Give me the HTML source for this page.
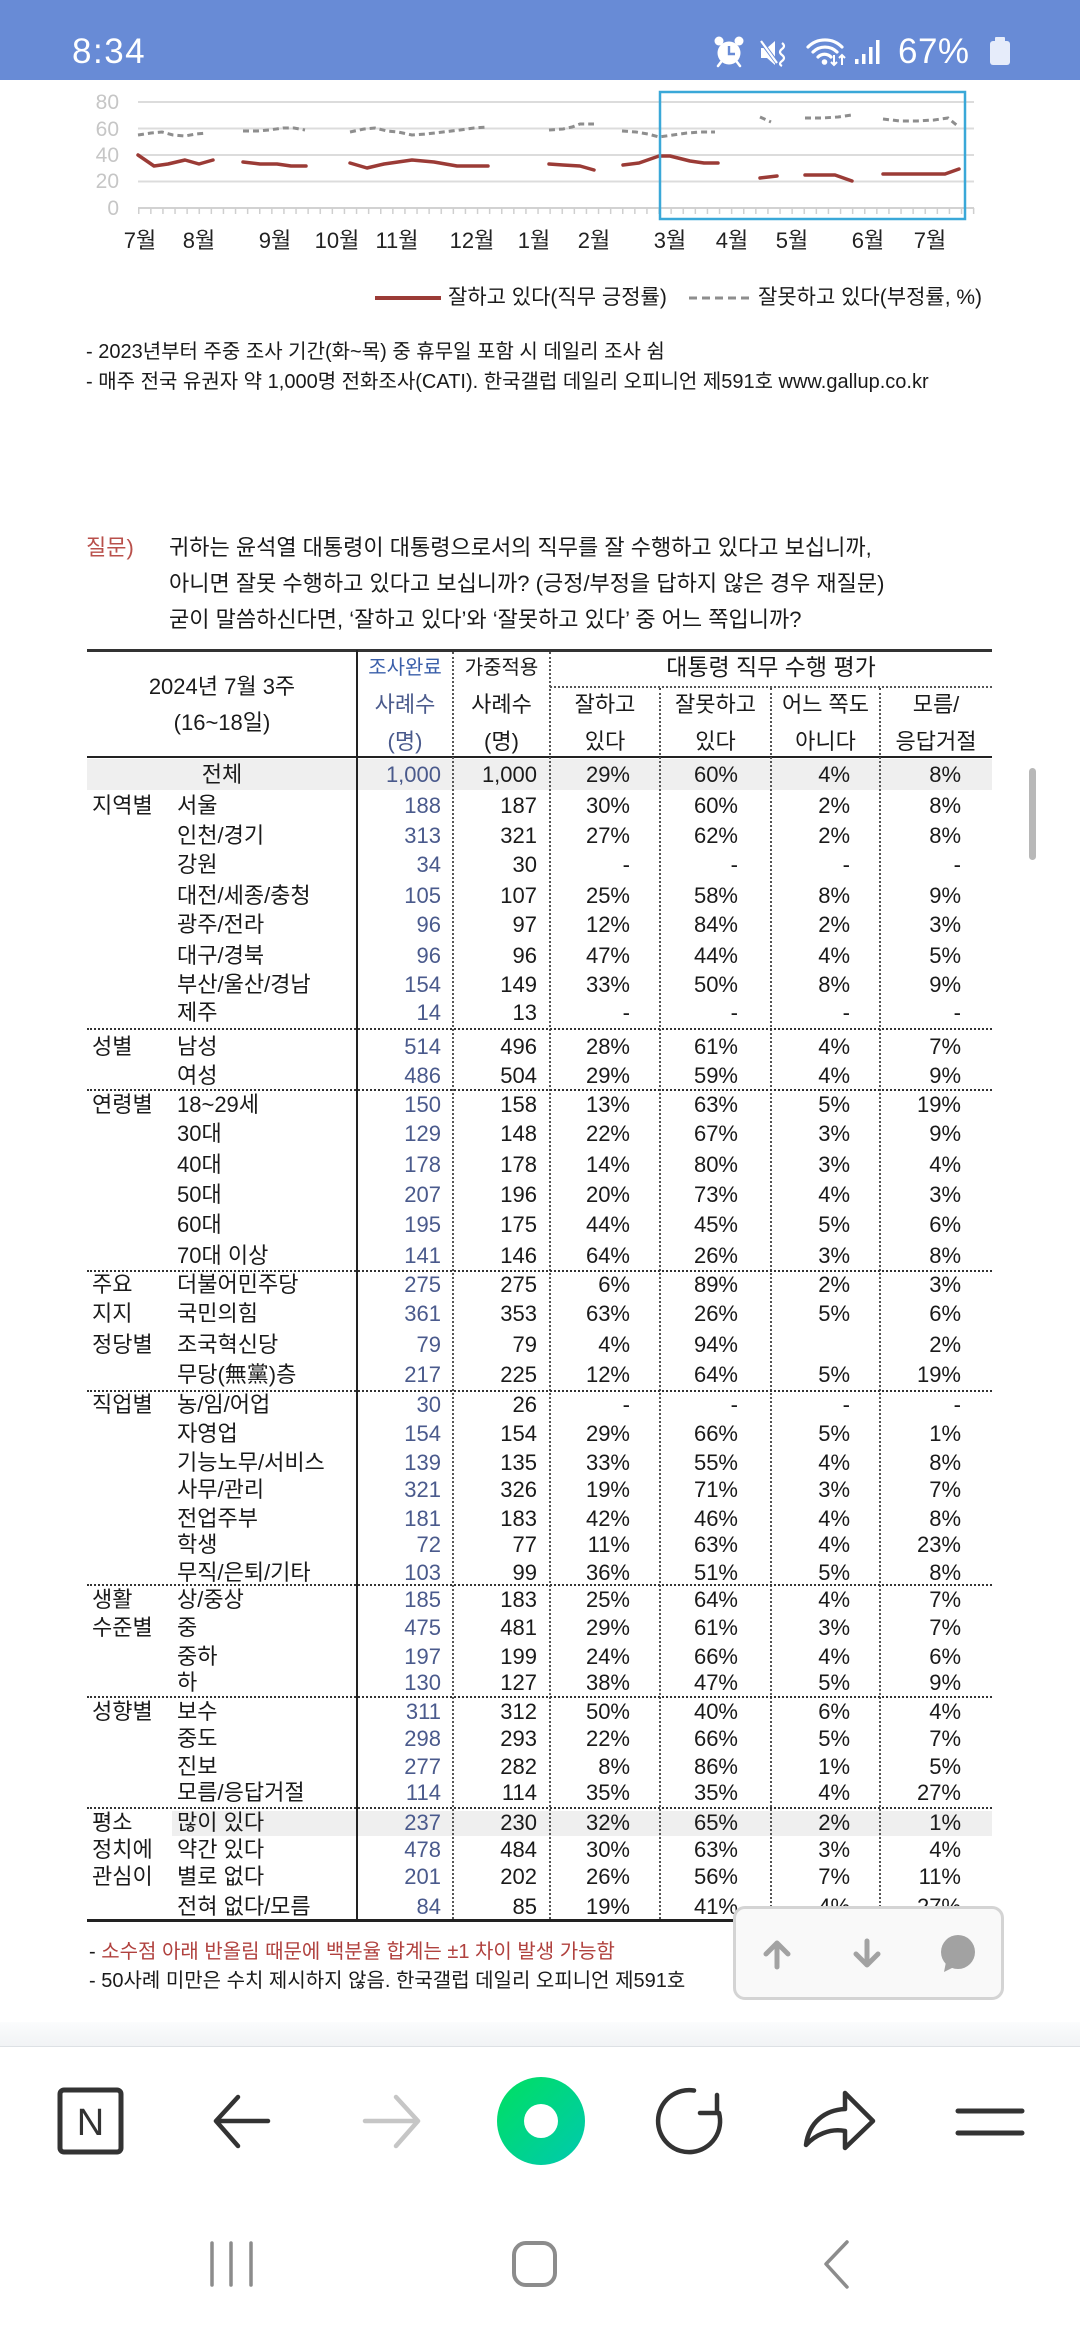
<!DOCTYPE html>
<html><head><meta charset="utf-8">
<style>
*{margin:0;padding:0;box-sizing:border-box}
html,body{width:1080px;height:2340px;overflow:hidden;background:#fff}
body{position:relative;font-family:"Liberation Sans","Noto Sans CJK KR",sans-serif;color:#1a1a1a}
.abs{position:absolute;white-space:nowrap}
.r{position:absolute;left:0;width:1080px;height:30px;line-height:30px;font-size:22px}
.r span{position:absolute;top:0;white-space:nowrap}
.g{left:92px}.l{left:177px}
.tc{left:87px;width:270px;text-align:center}
.a{right:639px;color:#4a5a8c}.b{right:543px}.c{right:450px}.d{right:342px}.e{right:230px}.f{right:119px}
.t{position:absolute;white-space:nowrap;text-align:center;line-height:30px;font-size:22px}
.vd{position:absolute;width:0;border-left:2px dotted #555}
.hd{position:absolute;left:87px;width:905px;height:0;border-top:2px dotted #333}
</style></head><body>

<!-- status bar -->
<div class="abs" style="left:0;top:0;width:1080px;height:80px;background:#688bd6"></div>
<div class="abs" style="left:72px;top:32px;font-size:35px;line-height:40px;color:#fff;letter-spacing:1.5px">8:34</div>
<div class="abs" style="left:898px;top:32px;font-size:35px;line-height:40px;color:#fff;letter-spacing:0.5px">67%</div>
<svg class="abs" style="left:0;top:0" width="1080" height="80" viewBox="0 0 1080 80">
  <g fill="#fff">
    <circle cx="729" cy="53" r="11.5"/>
    <circle cx="719" cy="41" r="4.5"/>
    <circle cx="739" cy="41" r="4.5"/>
  </g>
  <g stroke="#fff" stroke-width="2.5" stroke-linecap="round">
    <line x1="721" y1="62" x2="718" y2="66"/><line x1="737" y1="62" x2="740" y2="66"/>
  </g>
  <path d="M729 46 L729 54 L735 54" stroke="#688bd6" stroke-width="2.4" fill="none"/>
  <polygon points="761,48 767,48 775,41 775,65 767,58 761,58" fill="#fff"/>
  <line x1="760" y1="40" x2="778" y2="64" stroke="#688bd6" stroke-width="4"/>
  <line x1="761" y1="41" x2="777" y2="63" stroke="#fff" stroke-width="2.2"/>
  <path d="M782 43 q4 3 0 6 q-4 3 0 6 q4 3 0 6 q-4 3 0 5" stroke="#fff" stroke-width="2.2" fill="none"/>
  <g stroke="#fff" stroke-width="3.2" fill="none" stroke-linecap="round">
    <path d="M808 47 A24 24 0 0 1 842 47"/>
    <path d="M813 52 A17 17 0 0 1 837 52"/>
    <path d="M818 57 A9 9 0 0 1 831 57"/>
  </g>
  <circle cx="824.5" cy="62" r="2.8" fill="#fff"/>
  <g stroke="#fff" stroke-width="2" fill="none">
    <path d="M834 55 v10 M831 62 l3 3 l3 -3"/>
    <path d="M842 65 v-10 M839 58 l3 -3 l3 3"/>
  </g>
  <g fill="#fff">
    <rect x="855" y="59" width="3.5" height="5"/>
    <rect x="862" y="54" width="3.5" height="10"/>
    <rect x="869" y="47" width="3.5" height="17"/>
    <rect x="876" y="40" width="3.5" height="24"/>
  </g>
  <rect x="990" y="41" width="20" height="24" rx="3" fill="#e6ecfa"/>
  <rect x="995" y="37" width="10" height="5" rx="1" fill="#e6ecfa"/>
</svg>

<!-- chart -->
<svg class="abs" style="left:0;top:0" width="1080" height="320" viewBox="0 0 1080 320">
  <defs>
    <pattern id="tk" x="138" y="0" width="12.1" height="320" patternUnits="userSpaceOnUse">
      <rect x="0" y="208" width="1.5" height="6" fill="#cfcfcf"/>
    </pattern>
  </defs>
  <g stroke="#dcdcdc" stroke-width="2">
    <line x1="138" y1="102" x2="974" y2="102"/>
    <line x1="138" y1="128.5" x2="974" y2="128.5"/>
    <line x1="138" y1="155" x2="974" y2="155"/>
    <line x1="138" y1="181.5" x2="974" y2="181.5"/>
  </g>
  <line x1="138" y1="208" x2="974" y2="208" stroke="#d2d2d2" stroke-width="2"/>
  <rect x="138" y="208" width="838" height="7" fill="url(#tk)"/>
  <g font-size="21" fill="#c6c6c6" text-anchor="end" font-family="Liberation Sans, sans-serif">
    <text x="119" y="109">80</text>
    <text x="119" y="136">60</text>
    <text x="119" y="162">40</text>
    <text x="119" y="188">20</text>
    <text x="119" y="215">0</text>
  </g>
  <g fill="none" stroke="#8e8e8e" stroke-width="3" stroke-dasharray="6 4">
    <polyline points="138,135 151,133 162,132 173,135 185,136 196,134 207,133"/>
    <polyline points="243,131 257,131 269,130 283,128 294,128 305,130"/>
    <polyline points="350,132 364,129 375,128 387,131 398,132 412,135 426,134 443,132 460,130 474,128 488,127"/>
    <polyline points="549,130 563,129 572,127 580,124 594,124"/>
    <polyline points="622,131 636,132 648,134 659,137 673,135 687,133 701,132 715,132"/>
    <polyline points="760,117 771,122"/>
    <polyline points="805,118 822,118 838,117 852,115"/>
    <polyline points="883,119 900,121 917,121 934,120 948,118 959,127"/>
  </g>
  <g fill="none" stroke="#9b3b36" stroke-width="3.5" stroke-linejoin="round" stroke-linecap="round">
    <polyline points="138,155 154,166 168,164 185,160 199,164 213,160"/>
    <polyline points="243,162 260,164 277,164 291,166 306,166"/>
    <polyline points="350,163 367,168 384,164 412,160 434,162 457,166 488,166"/>
    <polyline points="549,164 563,165 580,166 594,170"/>
    <polyline points="623,165 639,163 659,156 670,156 690,161 704,163 718,163"/>
    <polyline points="760,178 777,176"/>
    <polyline points="805,175 835,175 852,181"/>
    <polyline points="883,174 945,174 959,169"/>
  </g>
  <rect x="660" y="92" width="305" height="127" fill="none" stroke="#3aa8d8" stroke-width="2.5"/>
  <g font-size="22" fill="#222" text-anchor="middle">
    <text x="140" y="248">7월</text>
    <text x="199" y="248">8월</text>
    <text x="275" y="248">9월</text>
    <text x="337" y="248">10월</text>
    <text x="397" y="248">11월</text>
    <text x="472" y="248">12월</text>
    <text x="534" y="248">1월</text>
    <text x="594" y="248">2월</text>
    <text x="670" y="248">3월</text>
    <text x="732" y="248">4월</text>
    <text x="792" y="248">5월</text>
    <text x="868" y="248">6월</text>
    <text x="930" y="248">7월</text>
  </g>
  <line x1="375" y1="298" x2="441" y2="298" stroke="#9b3b36" stroke-width="4"/>
  <line x1="689" y1="298" x2="751" y2="298" stroke="#8e8e8e" stroke-width="3" stroke-dasharray="8 5"/>
</svg>
<div class="abs" style="left:448px;top:283px;font-size:21px;line-height:30px">잘하고 있다(직무 긍정률)</div>
<div class="abs" style="left:758px;top:283px;font-size:21px;line-height:30px">잘못하고 있다(부정률, %)</div>

<div class="abs" style="left:86px;top:337px;font-size:20px;line-height:30px">- 2023년부터 주중 조사 기간(화~목) 중 휴무일 포함 시 데일리 조사 쉼</div>
<div class="abs" style="left:86px;top:367px;font-size:20px;line-height:30px">- 매주 전국 유권자 약 1,000명 전화조사(CATI). 한국갤럽 데일리 오피니언 제591호 www.gallup.co.kr</div>

<!-- question -->
<div class="abs" style="left:86px;top:530px;font-size:22px;line-height:36px;color:#b9504b">질문)</div>
<div class="abs" style="left:169px;top:530px;font-size:22px;line-height:36px">귀하는 윤석열 대통령이 대통령으로서의 직무를 잘 수행하고 있다고 보십니까,</div>
<div class="abs" style="left:169px;top:566px;font-size:22px;line-height:36px">아니면 잘못 수행하고 있다고 보십니까? (긍정/부정을 답하지 않은 경우 재질문)</div>
<div class="abs" style="left:169px;top:602px;font-size:22px;line-height:36px">굳이 말씀하신다면, ‘잘하고 있다’와 ‘잘못하고 있다’ 중 어느 쪽입니까?</div>

<!-- table backgrounds -->
<div class="abs" style="left:87px;top:759px;width:905px;height:31px;background:#efefef"></div>
<div class="abs" style="left:172px;top:1811px;width:820px;height:25px;background:#efefef"></div>

<!-- table lines -->
<div class="abs" style="left:87px;top:649px;width:905px;height:3px;background:#333"></div>
<div class="abs" style="left:87px;top:756px;width:905px;height:2px;background:#222"></div>
<div class="abs" style="left:356px;top:650px;width:2px;height:1271px;background:#222"></div>
<div class="vd" style="left:452px;top:652px;height:1267px"></div>
<div class="vd" style="left:549px;top:652px;height:1267px"></div>
<div class="vd" style="left:659px;top:688px;height:1231px"></div>
<div class="vd" style="left:770px;top:688px;height:1231px"></div>
<div class="vd" style="left:879px;top:688px;height:1231px"></div>
<div class="abs" style="left:550px;top:686px;width:442px;height:0;border-top:2px dotted #555"></div>
<div class="hd" style="top:1028px"></div>
<div class="hd" style="top:1089px"></div>
<div class="hd" style="top:1270px"></div>
<div class="hd" style="top:1390px"></div>
<div class="hd" style="top:1584px"></div>
<div class="hd" style="top:1696px"></div>
<div class="hd" style="top:1807px"></div>
<div class="abs" style="left:87px;top:1919px;width:905px;height:3px;background:#222"></div>

<!-- header text -->
<div class="t" style="left:87px;width:270px;top:672px">2024년 7월 3주</div>
<div class="t" style="left:87px;width:270px;top:708px">(16~18일)</div>
<div class="t" style="left:357px;width:96px;top:653px;font-size:20px;color:#3a5faa">조사완료</div>
<div class="t" style="left:453px;width:97px;top:653px;font-size:20px">가중적용</div>
<div class="t" style="left:357px;width:96px;top:690px;color:#4a5a8c">사례수</div>
<div class="t" style="left:357px;width:96px;top:727px;color:#4a5a8c">(명)</div>
<div class="t" style="left:453px;width:97px;top:690px">사례수</div>
<div class="t" style="left:453px;width:97px;top:727px">(명)</div>
<div class="t" style="left:550px;width:442px;top:652px;font-size:23px">대통령 직무 수행 평가</div>
<div class="t" style="left:550px;width:110px;top:690px">잘하고</div>
<div class="t" style="left:550px;width:110px;top:727px">있다</div>
<div class="t" style="left:660px;width:111px;top:690px">잘못하고</div>
<div class="t" style="left:660px;width:111px;top:727px">있다</div>
<div class="t" style="left:771px;width:109px;top:690px">어느 쪽도</div>
<div class="t" style="left:771px;width:109px;top:727px">아니다</div>
<div class="t" style="left:880px;width:112px;top:690px">모름/</div>
<div class="t" style="left:880px;width:112px;top:727px">응답거절</div>

<!-- rows -->
<div class="r" style="top:760px"><span class="tc">전체</span><span class="a">1,000</span><span class="b">1,000</span><span class="c">29%</span><span class="d">60%</span><span class="e">4%</span><span class="f">8%</span></div>
<div class="r" style="top:791px"><span class="g">지역별</span><span class="l">서울</span><span class="a">188</span><span class="b">187</span><span class="c">30%</span><span class="d">60%</span><span class="e">2%</span><span class="f">8%</span></div>
<div class="r" style="top:821px"><span class="l">인천/경기</span><span class="a">313</span><span class="b">321</span><span class="c">27%</span><span class="d">62%</span><span class="e">2%</span><span class="f">8%</span></div>
<div class="r" style="top:850px"><span class="l">강원</span><span class="a">34</span><span class="b">30</span><span class="c">-</span><span class="d">-</span><span class="e">-</span><span class="f">-</span></div>
<div class="r" style="top:881px"><span class="l">대전/세종/충청</span><span class="a">105</span><span class="b">107</span><span class="c">25%</span><span class="d">58%</span><span class="e">8%</span><span class="f">9%</span></div>
<div class="r" style="top:910px"><span class="l">광주/전라</span><span class="a">96</span><span class="b">97</span><span class="c">12%</span><span class="d">84%</span><span class="e">2%</span><span class="f">3%</span></div>
<div class="r" style="top:941px"><span class="l">대구/경북</span><span class="a">96</span><span class="b">96</span><span class="c">47%</span><span class="d">44%</span><span class="e">4%</span><span class="f">5%</span></div>
<div class="r" style="top:970px"><span class="l">부산/울산/경남</span><span class="a">154</span><span class="b">149</span><span class="c">33%</span><span class="d">50%</span><span class="e">8%</span><span class="f">9%</span></div>
<div class="r" style="top:998px"><span class="l">제주</span><span class="a">14</span><span class="b">13</span><span class="c">-</span><span class="d">-</span><span class="e">-</span><span class="f">-</span></div>
<div class="r" style="top:1032px"><span class="g">성별</span><span class="l">남성</span><span class="a">514</span><span class="b">496</span><span class="c">28%</span><span class="d">61%</span><span class="e">4%</span><span class="f">7%</span></div>
<div class="r" style="top:1061px"><span class="l">여성</span><span class="a">486</span><span class="b">504</span><span class="c">29%</span><span class="d">59%</span><span class="e">4%</span><span class="f">9%</span></div>
<div class="r" style="top:1090px"><span class="g">연령별</span><span class="l">18~29세</span><span class="a">150</span><span class="b">158</span><span class="c">13%</span><span class="d">63%</span><span class="e">5%</span><span class="f">19%</span></div>
<div class="r" style="top:1119px"><span class="l">30대</span><span class="a">129</span><span class="b">148</span><span class="c">22%</span><span class="d">67%</span><span class="e">3%</span><span class="f">9%</span></div>
<div class="r" style="top:1150px"><span class="l">40대</span><span class="a">178</span><span class="b">178</span><span class="c">14%</span><span class="d">80%</span><span class="e">3%</span><span class="f">4%</span></div>
<div class="r" style="top:1180px"><span class="l">50대</span><span class="a">207</span><span class="b">196</span><span class="c">20%</span><span class="d">73%</span><span class="e">4%</span><span class="f">3%</span></div>
<div class="r" style="top:1210px"><span class="l">60대</span><span class="a">195</span><span class="b">175</span><span class="c">44%</span><span class="d">45%</span><span class="e">5%</span><span class="f">6%</span></div>
<div class="r" style="top:1241px"><span class="l">70대 이상</span><span class="a">141</span><span class="b">146</span><span class="c">64%</span><span class="d">26%</span><span class="e">3%</span><span class="f">8%</span></div>
<div class="r" style="top:1270px"><span class="g">주요</span><span class="l">더불어민주당</span><span class="a">275</span><span class="b">275</span><span class="c">6%</span><span class="d">89%</span><span class="e">2%</span><span class="f">3%</span></div>
<div class="r" style="top:1299px"><span class="g">지지</span><span class="l">국민의힘</span><span class="a">361</span><span class="b">353</span><span class="c">63%</span><span class="d">26%</span><span class="e">5%</span><span class="f">6%</span></div>
<div class="r" style="top:1330px"><span class="g">정당별</span><span class="l">조국혁신당</span><span class="a">79</span><span class="b">79</span><span class="c">4%</span><span class="d">94%</span><span class="f">2%</span></div>
<div class="r" style="top:1360px"><span class="l">무당(無黨)층</span><span class="a">217</span><span class="b">225</span><span class="c">12%</span><span class="d">64%</span><span class="e">5%</span><span class="f">19%</span></div>
<div class="r" style="top:1390px"><span class="g">직업별</span><span class="l">농/임/어업</span><span class="a">30</span><span class="b">26</span><span class="c">-</span><span class="d">-</span><span class="e">-</span><span class="f">-</span></div>
<div class="r" style="top:1419px"><span class="l">자영업</span><span class="a">154</span><span class="b">154</span><span class="c">29%</span><span class="d">66%</span><span class="e">5%</span><span class="f">1%</span></div>
<div class="r" style="top:1448px"><span class="l">기능노무/서비스</span><span class="a">139</span><span class="b">135</span><span class="c">33%</span><span class="d">55%</span><span class="e">4%</span><span class="f">8%</span></div>
<div class="r" style="top:1475px"><span class="l">사무/관리</span><span class="a">321</span><span class="b">326</span><span class="c">19%</span><span class="d">71%</span><span class="e">3%</span><span class="f">7%</span></div>
<div class="r" style="top:1504px"><span class="l">전업주부</span><span class="a">181</span><span class="b">183</span><span class="c">42%</span><span class="d">46%</span><span class="e">4%</span><span class="f">8%</span></div>
<div class="r" style="top:1530px"><span class="l">학생</span><span class="a">72</span><span class="b">77</span><span class="c">11%</span><span class="d">63%</span><span class="e">4%</span><span class="f">23%</span></div>
<div class="r" style="top:1558px"><span class="l">무직/은퇴/기타</span><span class="a">103</span><span class="b">99</span><span class="c">36%</span><span class="d">51%</span><span class="e">5%</span><span class="f">8%</span></div>
<div class="r" style="top:1585px"><span class="g">생활</span><span class="l">상/중상</span><span class="a">185</span><span class="b">183</span><span class="c">25%</span><span class="d">64%</span><span class="e">4%</span><span class="f">7%</span></div>
<div class="r" style="top:1613px"><span class="g">수준별</span><span class="l">중</span><span class="a">475</span><span class="b">481</span><span class="c">29%</span><span class="d">61%</span><span class="e">3%</span><span class="f">7%</span></div>
<div class="r" style="top:1642px"><span class="l">중하</span><span class="a">197</span><span class="b">199</span><span class="c">24%</span><span class="d">66%</span><span class="e">4%</span><span class="f">6%</span></div>
<div class="r" style="top:1668px"><span class="l">하</span><span class="a">130</span><span class="b">127</span><span class="c">38%</span><span class="d">47%</span><span class="e">5%</span><span class="f">9%</span></div>
<div class="r" style="top:1697px"><span class="g">성향별</span><span class="l">보수</span><span class="a">311</span><span class="b">312</span><span class="c">50%</span><span class="d">40%</span><span class="e">6%</span><span class="f">4%</span></div>
<div class="r" style="top:1724px"><span class="l">중도</span><span class="a">298</span><span class="b">293</span><span class="c">22%</span><span class="d">66%</span><span class="e">5%</span><span class="f">7%</span></div>
<div class="r" style="top:1752px"><span class="l">진보</span><span class="a">277</span><span class="b">282</span><span class="c">8%</span><span class="d">86%</span><span class="e">1%</span><span class="f">5%</span></div>
<div class="r" style="top:1778px"><span class="l">모름/응답거절</span><span class="a">114</span><span class="b">114</span><span class="c">35%</span><span class="d">35%</span><span class="e">4%</span><span class="f">27%</span></div>
<div class="r" style="top:1808px"><span class="g">평소</span><span class="l">많이 있다</span><span class="a">237</span><span class="b">230</span><span class="c">32%</span><span class="d">65%</span><span class="e">2%</span><span class="f">1%</span></div>
<div class="r" style="top:1835px"><span class="g">정치에</span><span class="l">약간 있다</span><span class="a">478</span><span class="b">484</span><span class="c">30%</span><span class="d">63%</span><span class="e">3%</span><span class="f">4%</span></div>
<div class="r" style="top:1862px"><span class="g">관심이</span><span class="l">별로 없다</span><span class="a">201</span><span class="b">202</span><span class="c">26%</span><span class="d">56%</span><span class="e">7%</span><span class="f">11%</span></div>
<div class="r" style="top:1892px"><span class="l">전혀 없다/모름</span><span class="a">84</span><span class="b">85</span><span class="c">19%</span><span class="d">41%</span><span class="e">4%</span><span class="f">27%</span></div>

<!-- scrollbar -->
<div class="abs" style="left:1029px;top:768px;width:7px;height:92px;border-radius:4px;background:#b8b8b8"></div>

<!-- footnotes -->
<div class="abs" style="left:89px;top:1937px;font-size:20px;line-height:30px">- <span style="color:#b0413e">소수점 아래 반올림 때문에 백분율 합계는 ±1 차이 발생 가능함</span></div>
<div class="abs" style="left:89px;top:1966px;font-size:20px;line-height:30px">- 50사례 미만은 수치 제시하지 않음. 한국갤럽 데일리 오피니언 제591호</div>

<!-- floating panel -->
<div class="abs" style="left:733px;top:1906px;width:271px;height:94px;border:3px solid #d4d4d4;border-radius:12px;background:#f9f9f9"></div>
<svg class="abs" style="left:0;top:1900px" width="1080" height="110" viewBox="0 1900 1080 110">
  <g stroke="#a2a2a2" stroke-width="5" fill="none" stroke-linecap="round" stroke-linejoin="round">
    <path d="M777 1967 V1944 M766 1954 L777 1943 L788 1954"/>
    <path d="M867 1941 V1964 M856 1954 L867 1965 L878 1954"/>
  </g>
  <circle cx="958" cy="1952" r="17" fill="#a2a2a2"/>
  <path d="M946 1962 L944 1972 L956 1966 Z" fill="#a2a2a2"/>
</svg>

<!-- browser bar -->
<div class="abs" style="left:0;top:2022px;width:1080px;height:24px;background:linear-gradient(#fbfcfd,#f1f3f5)"></div>
<div class="abs" style="left:0;top:2046px;width:1080px;height:1px;background:#dde1e5"></div>
<svg class="abs" style="left:0;top:2047px" width="1080" height="293" viewBox="0 2047 1080 293">
  <defs>
    <linearGradient id="gr" x1="0" y1="0" x2="1" y2="1">
      <stop offset="0" stop-color="#00e060"/>
      <stop offset="1" stop-color="#00c9b0"/>
    </linearGradient>
  </defs>
  <rect x="60" y="2090" width="61" height="62" rx="4" fill="none" stroke="#333" stroke-width="5"/>
  <text x="90.5" y="2135" font-size="38" text-anchor="middle" fill="#333" font-family="Liberation Sans, sans-serif">N</text>
  <g stroke="#333" stroke-width="4.5" fill="none" stroke-linecap="round" stroke-linejoin="round">
    <path d="M217 2121 H268 M238 2097 L216 2121 L238 2146"/>
  </g>
  <g stroke="#c6c6c6" stroke-width="4.5" fill="none" stroke-linecap="round" stroke-linejoin="round">
    <path d="M365 2121 H417 M396 2097 L418 2121 L396 2146"/>
  </g>
  <circle cx="541" cy="2121" r="44" fill="url(#gr)"/>
  <circle cx="541" cy="2121" r="17" fill="#fff"/>
  <g stroke="#333" stroke-width="4.5" fill="none" stroke-linecap="round" stroke-linejoin="round">
    <path d="M694 2090.5 A31 31 0 1 0 719 2113"/>
    <path d="M717 2095 L717 2113 L700 2113"/>
    <path d="M845 2093 L873 2121 L845 2148 L845 2131 C830 2128 815 2135 806 2145 C809 2122 825 2110 845 2109 Z"/>
  </g>
  <g stroke="#333" stroke-width="5" stroke-linecap="round">
    <line x1="958" y1="2111" x2="1022" y2="2111"/>
    <line x1="958" y1="2133" x2="1022" y2="2133"/>
  </g>
  <g stroke="#8c8c8c" stroke-width="3.5" fill="none" stroke-linecap="round" stroke-linejoin="round">
    <line x1="212" y1="2243" x2="212" y2="2285"/>
    <line x1="231" y1="2243" x2="231" y2="2285"/>
    <line x1="251" y1="2243" x2="251" y2="2285"/>
    <rect x="514" y="2243" width="41" height="42" rx="12" stroke-width="4"/>
    <path d="M847 2242 L826 2264 L847 2287"/>
  </g>
</svg>

</body></html>
